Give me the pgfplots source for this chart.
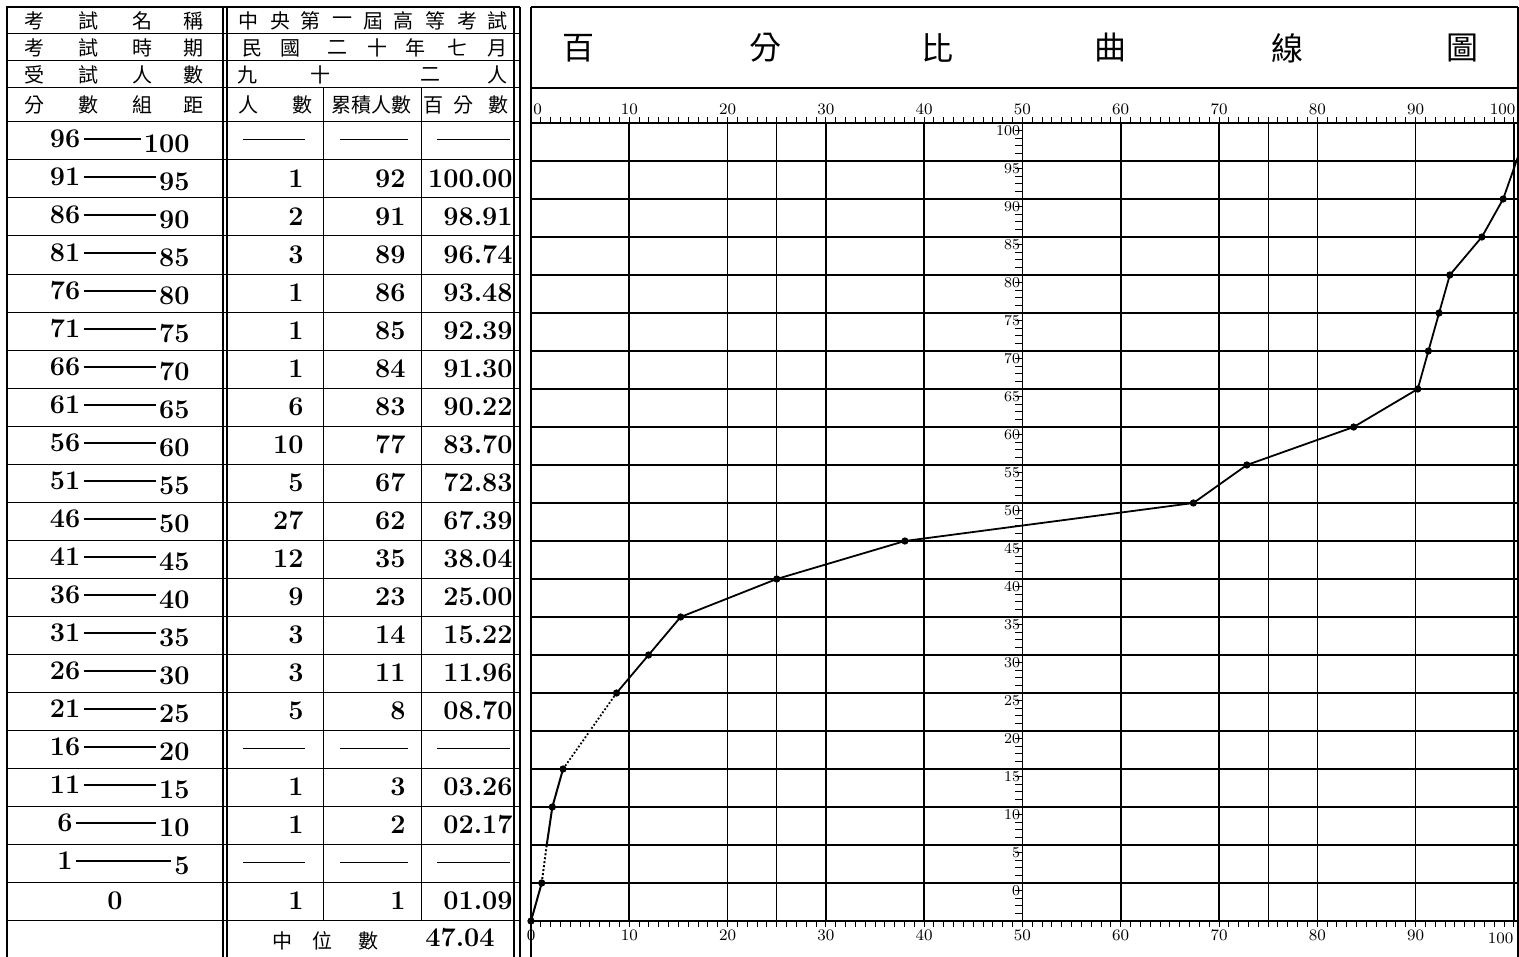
\documentclass[border=0pt]{standalone}
\usepackage{pgfplots}
\pgfplotsset{compat=1.18}
\usepackage{fontspec}
\newfontfamily\cjk{Noto Sans CJK TC}
\begin{document}
\begin{tikzpicture}[x=0.5pt,y=-0.5pt,
  num/.style={font=\fontsize{13.5}{15}\selectfont\bfseries, inner sep=1.5pt},
  hz/.style={font=\cjk\fontsize{10}{12}\selectfont, inner sep=0pt},
  thin/.style={line width=0.5pt},
  thick/.style={line width=0.8pt}]
\useasboundingbox (0,0) rectangle (1519,957);

% ---- table frame
\draw[thick] (7,957) -- (7,7) -- (520,7);
\draw[thick] (514,7) -- (514,957);
\draw[thick] (520,7) -- (520,957);
\draw[thick] (223,7) -- (223,957);
\draw[thick] (227,7) -- (227,957);
\foreach \y in {34,61,88,122} \draw[thin] (7,\y) -- (520,\y);
\foreach \k in {1,...,21} \draw[thin] (7,{122+38*\k}) -- (520,{122+38*\k});
\draw[thin] (323,88) -- (323,920);
\draw[thin] (421,88) -- (421,920);

% ---- header
\foreach \x/\t in {35/考,88/試,142/名,193/稱} \node[hz] at (\x,21) {\t};
\foreach \x/\t in {35/考,88/試,142/時,193/期} \node[hz] at (\x,48) {\t};
\foreach \x/\t in {35/受,88/試,142/人,193/數} \node[hz] at (\x,75) {\t};
\foreach \x/\t in {35/分,88/數,142/組,193/距} \node[hz] at (\x,105) {\t};
\foreach \x/\t in {248/中,280/央,310/第,342/一,373/屆,403/高,435/等,467/考,497/試} \node[hz] at (\x,21) {\t};
\foreach \x/\t in {252/民,290/國,337/二,377/十,415/年,457/七,497/月} \node[hz] at (\x,48) {\t};
\foreach \x/\t in {247/九,320/十,430/二,497/人} \node[hz] at (\x,75) {\t};
\foreach \x/\t in {248/人,302/數,433/百,463/分,498/數} \node[hz] at (\x,105) {\t};
\node[hz] at (371,105) {累積人數};

% ---- score classes
\foreach \i/\lo/\hi in {0/96/100,1/91/95,2/86/90,3/81/85,4/76/80,5/71/75,6/66/70,7/61/65,8/56/60,9/51/55,10/46/50,11/41/45,12/36/40,13/31/35,14/26/30,15/21/25,16/16/20,17/11/15,18/6/10,19/1/5}{
  \node[num] (a) at (65,{139+38*\i}) {\lo};
  \node[num, anchor=east] (b) at (193,{144+38*\i}) {\hi};
  \draw[line width=0.6pt] (a.east) -- (a.east -| b.west);
}
\node[num] at (115,901) {0};

% ---- frequencies, cumulative, percent
\foreach \i/\n/\c/\p in {1/1/92/100.00,2/2/91/98.91,3/3/89/96.74,4/1/86/93.48,5/1/85/92.39,6/1/84/91.30,7/6/83/90.22,8/10/77/83.70,9/5/67/72.83,10/27/62/67.39,11/12/35/38.04,12/9/23/25.00,13/3/14/15.22,14/3/11/11.96,15/5/8/08.70,17/1/3/03.26,18/1/2/02.17,20/1/1/01.09}{
  \node[num, anchor=east] at (307,{141+38*\i}) {\n};
  \node[num, anchor=east] at (409,{141+38*\i}) {\c};
  \node[num, anchor=east] at (516,{141+38*\i}) {\p};
}
\foreach \i in {0,16,19}{
  \draw[thin] (243,{140+38*\i}) -- (305,{140+38*\i});
  \draw[thin] (340,{140+38*\i}) -- (408,{140+38*\i});
  \draw[thin] (437,{140+38*\i}) -- (510,{140+38*\i});
}
\foreach \x/\t in {282/中,322/位,368/數} \node[hz] at (\x,941) {\t};
\node[num, anchor=east] at (498,938) {47.04};

% ---- chart frame and title
\draw[thick] (531,7) -- (1518,7);
\draw[thick] (531,88) -- (1518,88);
\draw[thick] (531,7) -- (531,957);
\draw[thick] (1518,7) -- (1518,957);
\foreach \x/\t in {578/百,765/分,937/比,1110/曲,1287/線,1462/圖}
  \node[font=\cjk\fontsize{16}{18}\selectfont, inner sep=0pt] at (\x,48) {\t};

\begin{axis}[
  at={(265.5pt,-460.5pt)}, anchor=south west,
  scale only axis, width=493.4pt, height=399pt,
  xmin=0, xmax=100.4, ymin=0, ymax=21,
  axis line style={line width=0.8pt},
  xtick={0,10,...,100}, minor x tick num=9,
  xticklabels={0,10,20,30,40,50,60,70,80,90,{}},
  ytick={0,...,21}, yticklabels={},
  y tick style={draw=none},
  x tick style={black, line width=0.5pt},
  major tick length=3pt, minor tick length=3pt,
  tick align=outside, xtick pos=both,
  xticklabel style={font=\fontsize{8}{9}\selectfont, inner sep=1pt},
  grid=major, major grid style={black, line width=0.8pt},
  extra x ticks={25,75}, extra x tick labels={},
  extra x tick style={major grid style={black, line width=0.5pt}},
  clip=false,
]
% top ruler labels
\pgfplotsinvokeforeach{10,20,...,90}{
  \node[anchor=south, font=\fontsize{8}{9}\selectfont, inner sep=1pt] at (axis cs:#1,21) [yshift=3pt] {#1};
}
\node[anchor=south west, font=\fontsize{8}{9}\selectfont, inner sep=1pt] at (axis cs:0,21) [yshift=3pt] {0};
\node[anchor=south east, font=\fontsize{8}{9}\selectfont, inner sep=1pt] at (axis cs:100.4,21) [yshift=3pt] {100};
\node[anchor=north east, font=\fontsize{8}{9}\selectfont, inner sep=1pt] at (axis cs:100.2,0) [yshift=-4.5pt] {100};
% score scale on the middle line
\pgfplotsinvokeforeach{0,...,105}{
  \draw[line width=0.5pt] (axis cs:50,{#1/5}) -- ++(-3.5pt,0);
}
\pgfplotsinvokeforeach{0,5,...,100}{
  \node[anchor=north east, font=\fontsize{7.5}{8}\selectfont, inner sep=1pt] at (axis cs:50,{#1/5+1}) {#1};
}
% ogive: x = cumulative percent, y = row boundary (class index)
\addplot[line width=1pt] coordinates {(0,0) (1.09,1)};
\addplot[line width=1pt, densely dotted] coordinates {(1.09,1) (1.6,2)};
\addplot[line width=1pt] coordinates {(1.6,2) (2.17,3) (3.26,4)};
\addplot[line width=0.9pt, densely dotted] coordinates {(3.26,4) (8.70,6)};
\addplot[line width=0.9pt] coordinates {
  (8.70,6) (11.96,7) (15.22,8) (25.00,9) (38.04,10) (67.39,11) (72.83,12)
  (83.70,13) (90.22,14) (91.30,15) (92.39,16) (93.48,17) (96.74,18) (98.91,19) (100.4,20.1)};
\addplot[only marks, mark=*, mark size=1.6pt] coordinates {
  (0,0) (1.09,1) (2.17,3) (3.26,4) (8.70,6) (11.96,7) (15.22,8) (25.00,9) (38.04,10)
  (67.39,11) (72.83,12) (83.70,13) (90.22,14) (91.30,15) (92.39,16) (93.48,17)
  (96.74,18) (98.91,19)};
\end{axis}
\end{tikzpicture}
\end{document}
